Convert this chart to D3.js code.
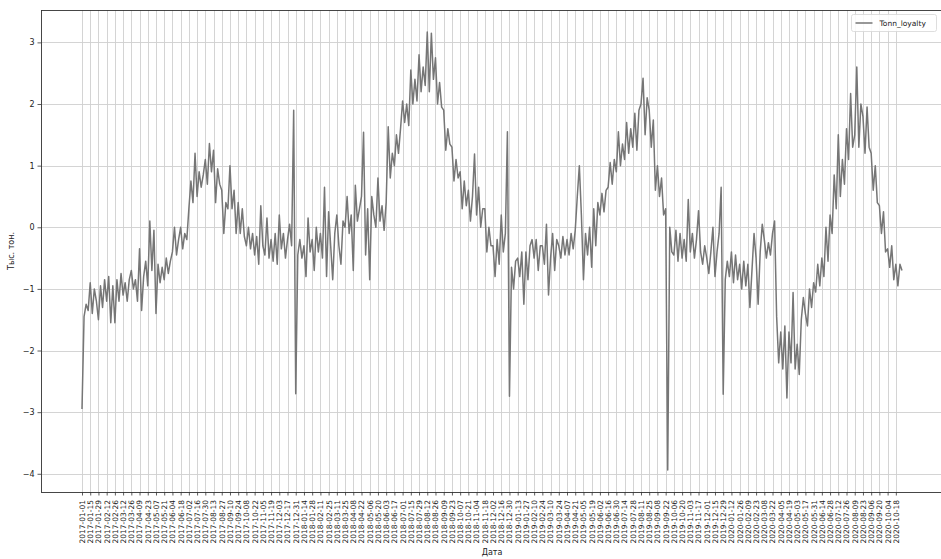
<!DOCTYPE html>
<html>
<head>
<meta charset="utf-8">
<script src="https://cdn.jsdelivr.net/npm/d3@7"></script>
<style>
  body { margin: 0; background: #fff; }
  svg { display: block; overflow: hidden; }
</style>
</head>
<body>
<svg id="chart" width="941" height="559"></svg>
<script>
// ---------------------------------------------------------------------------
// Data (one value every 3.5 days)
// ---------------------------------------------------------------------------

const seriesName = 'Tonn_loyalty';
const xTitle = 'Дата';
const yTitle = 'Тыс. тон.';
const startDate = '2017-01-01';
const stepDays = 3.5;
const tickStepDays = 14;
const tickCount = 100;
const yTicks = [-4, -3, -2, -1, 0, 1, 2, 3];

// 4 values per two-week block
const values = [
  -2.95, -1.45, -1.25, -1.35,   -0.9, -1.4, -1.0, -1.2,
  -1.5, -0.95, -1.3, -0.85,     -1.2, -0.8, -1.55, -0.95,
  -1.55, -0.85, -1.2, -0.75,    -1.1, -0.9, -1.2, -0.85,
  -0.7, -1.0, -0.85, -1.2,      -0.35, -1.35, -0.8, -0.55,
  -0.95, 0.1, -0.7, -0.05,      -1.4, -0.6, -0.9, -0.65,
  -0.85, -0.5, -0.75, -0.55,    -0.4, 0.0, -0.45, -0.2,
  0.0, -0.35, -0.1, -0.2,       0.3, 0.75, 0.4, 1.2,
  0.5, 0.9, 0.65, 0.85,         1.1, 0.7, 1.36, 0.9,
  1.25, 0.4, 0.95, 0.7,         0.6, -0.1, 0.4, 0.3,
  1.0, 0.3, 0.6, -0.1,          0.4, -0.1, 0.3, -0.15,
  -0.3, 0.0, -0.35, -0.1,       -0.45, -0.15, -0.6, 0.35,
  -0.3, -0.45, 0.15, -0.5,      -0.2, -0.55, -0.1, -0.6,
  0.2, -0.35, -0.1, -0.5,       -0.2, 0.05, -0.3, 1.9,
  -2.7, -0.45, -0.2, -0.5,      -0.3, -0.8, 0.15, -0.4,
  -0.2, -0.7, 0.0, -0.4,        -0.1, -0.5, 0.65, -0.8,
  0.25, -0.3, -0.85, -0.1,      0.2, -0.3, -0.6, 0.1,
  0.0, 0.5, -0.1, 0.2,          -0.7, 0.68, 0.1, 0.3,
  0.5, 1.54, -0.45, 0.3,        -0.85, 0.5, 0.2, 0.0,
  0.8, 0.1, 0.35, -0.05,        0.4, 1.63, 0.8, 1.2,
  1.0, 1.5, 1.2, 1.6,           2.05, 1.7, 2.0, 1.65,
  2.55, 2.0, 2.4, 2.05,         2.8, 2.2, 2.6, 2.3,
  3.17, 2.2, 3.15, 2.4,         2.75, 2.0, 2.35, 1.95,
  1.9, 1.25, 1.6, 1.35,         1.3, 0.75, 1.1, 0.8,
  0.9, 0.3, 0.75, 0.35,         0.6, 0.1, 0.5, 1.19,
  0.2, 0.65, 0.0, 0.3,          0.3, -0.4, 0.0, -0.3,
  -0.3, -0.8, -0.2, -0.6,       0.2, -0.4, -0.1, 1.55,
  -2.74, -0.65, -1.0, -0.55,    -0.5, -0.8, -0.4, -1.25,
  -0.4, -0.85, -0.3, -0.2,      -0.5, -0.2, -0.7, -0.3,
  -0.3, -0.6, 0.05, -1.1,       -0.5, -0.1, -0.7, -0.2,
  -0.3, -0.5, -0.15, -0.45,     -0.2, -0.45, -0.1, -0.35,
  -0.05, 0.5, 1.0, 0.2,         -0.85, -0.1, -0.45, 0.0,
  -0.65, 0.3, -0.3, 0.4,        0.2, 0.55, 0.25, 0.6,
  0.65, 1.05, 0.7, 1.1,         0.9, 1.55, 1.0, 1.35,
  1.1, 1.7, 1.2, 1.6,           1.3, 1.85, 1.25, 1.9,
  2.0, 2.42, 1.5, 2.1,          1.9, 1.3, 1.74, 0.6,
  1.0, 0.5, 0.8, 0.2,           0.3, -3.94, 0.0, -0.4,
  -0.45, -0.05, -0.55, -0.1,    -0.5, -0.2, -0.55, 0.45,
  -0.4, -0.1, -0.5, -0.2,       0.27, -0.4, -0.6, -0.3,
  -0.5, -0.75, -0.4, 0.0,       -0.8, -0.4, -0.1, 0.65,
  -2.71, -0.85, -0.55, -0.8,    -0.4, -0.9, -0.45, -0.85,
  -0.6, -1.0, -0.55, -0.95,     -0.6, -1.3, -0.7, -0.1,
  -0.5, -1.25, -0.4, 0.05,      -0.2, -0.5, -0.25, -0.45,
  -0.1, 0.1, -1.45, -2.2,       -1.7, -2.3, -1.6, -2.77,
  -1.7, -2.2, -1.06, -2.3,      -1.9, -2.39, -1.5, -1.14,
  -1.4, -1.6, -1.0, -1.3,       -0.9, -1.05, -0.6, -0.95,
  -0.5, -0.8, 0.0, -0.55,       0.2, -0.1, 0.85, 0.3,
  1.5, 0.5, 1.1, 0.7,           1.6, 1.1, 2.17, 1.3,
  1.5, 2.6, 1.3, 2.0,           1.8, 1.2, 1.95, 1.3,
  1.2, 0.6, 1.0, 0.4,           0.35, -0.1, 0.25, -0.4,
  -0.35, -0.65, -0.3, -0.85,    -0.6, -0.95, -0.6, -0.7
];

// ---------------------------------------------------------------------------
// Layout
// ---------------------------------------------------------------------------

const DAY = 864e5;
const FONT = '"DejaVu Sans", sans-serif';
const margin = { top: 10, left: 41, right: 943, bottom: 492 };

const t0 = Date.parse(startDate + 'T00:00:00Z');
const points = values.map((v, i) => ({ date: new Date(t0 + i * stepDays * DAY), v }));
const tickDates = d3.range(tickCount).map(k => new Date(t0 + k * tickStepDays * DAY));

// matplotlib-like 5% padding on both axes
const [dMin, dMax] = d3.extent(points, d => +d.date);
const xPad = 0.05 * (dMax - dMin);
const x = d3.scaleUtc()
  .domain([new Date(dMin - xPad), new Date(dMax + xPad)])
  .range([margin.left, margin.right]);

const [vMin, vMax] = d3.extent(values);
const yPad = 0.05 * (vMax - vMin);
const y = d3.scaleLinear()
  .domain([vMin - yPad, vMax + yPad])
  .range([margin.bottom, margin.top]);

const svg = d3.select('#chart');

// ---------------------------------------------------------------------------
// Grid
// ---------------------------------------------------------------------------

const grid = svg.append('g').attr('stroke', '#cfcfcf').attr('stroke-width', 0.9);
grid.selectAll('line.v').data(tickDates).join('line')
  .attr('x1', d => Math.round(x(d)) + 0.5).attr('x2', d => Math.round(x(d)) + 0.5)
  .attr('y1', margin.top).attr('y2', margin.bottom);
grid.selectAll('line.h').data(yTicks).join('line')
  .attr('x1', margin.left).attr('x2', margin.right)
  .attr('y1', d => Math.round(y(d)) + 0.5).attr('y2', d => Math.round(y(d)) + 0.5);

// ---------------------------------------------------------------------------
// Series
// ---------------------------------------------------------------------------

const line = d3.line().x(d => x(d.date)).y(d => y(d.v));
svg.append('path').datum(points)
  .attr('d', line)
  .attr('fill', 'none')
  .attr('stroke', '#767676')
  .attr('stroke-width', 1.5)
  .attr('stroke-linejoin', 'round');

// ---------------------------------------------------------------------------
// Axes
// ---------------------------------------------------------------------------

const xAx = svg.append('g')
  .attr('transform', `translate(0,${margin.bottom})`)
  .call(d3.axisBottom(x).tickValues(tickDates).tickFormat(d3.utcFormat('%Y-%m-%d'))
    .tickSize(3.5).tickSizeOuter(0));
xAx.selectAll('text')
  .attr('transform', 'rotate(-90)')
  .attr('text-anchor', 'end')
  .attr('x', -8).attr('y', 0).attr('dy', '0.32em');

const yAx = svg.append('g')
  .attr('transform', `translate(${margin.left},0)`)
  .call(d3.axisLeft(y).tickValues(yTicks).tickFormat(d3.format('d'))
    .tickSize(3.5).tickSizeOuter(0));

[xAx, yAx].forEach(sel => {
  sel.selectAll('text').style('font-size', '7.5px').style('font-family', FONT).attr('fill', '#222');
  sel.selectAll('.tick line').attr('stroke', '#333').attr('stroke-width', 0.8);
  sel.select('.domain').remove();
});
yAx.selectAll('text').style('font-size', '8px');

// frame
svg.append('rect')
  .attr('x', margin.left + 0.5).attr('y', margin.top + 0.5)
  .attr('width', margin.right - margin.left).attr('height', margin.bottom - margin.top)
  .attr('fill', 'none').attr('stroke', '#333').attr('stroke-width', 0.9);

// axis titles
svg.append('text')
  .attr('x', (margin.left + margin.right) / 2).attr('y', 555)
  .attr('text-anchor', 'middle')
  .style('font-family', FONT).style('font-size', '8px').attr('fill', '#222')
  .text(xTitle);
svg.append('text')
  .attr('transform', `translate(14,${(margin.top + margin.bottom) / 2}) rotate(-90)`)
  .attr('text-anchor', 'middle')
  .style('font-family', FONT).style('font-size', '8px').attr('fill', '#222')
  .text(yTitle);

// ---------------------------------------------------------------------------
// Legend
// ---------------------------------------------------------------------------

const lg = svg.append('g').attr('transform', 'translate(851.5,14.5)');
lg.append('rect')
  .attr('width', 85).attr('height', 17).attr('rx', 2)
  .attr('fill', '#fff').attr('fill-opacity', 0.85)
  .attr('stroke', '#d6d6d6').attr('stroke-width', 0.8);
lg.append('line')
  .attr('x1', 4).attr('x2', 21).attr('y1', 8.5).attr('y2', 8.5)
  .attr('stroke', '#767676').attr('stroke-width', 1.5);
lg.append('text')
  .attr('x', 28).attr('y', 11.5)
  .style('font-family', FONT).style('font-size', '7.5px').attr('fill', '#222')
  .text(seriesName);
</script>
</body>
</html>
